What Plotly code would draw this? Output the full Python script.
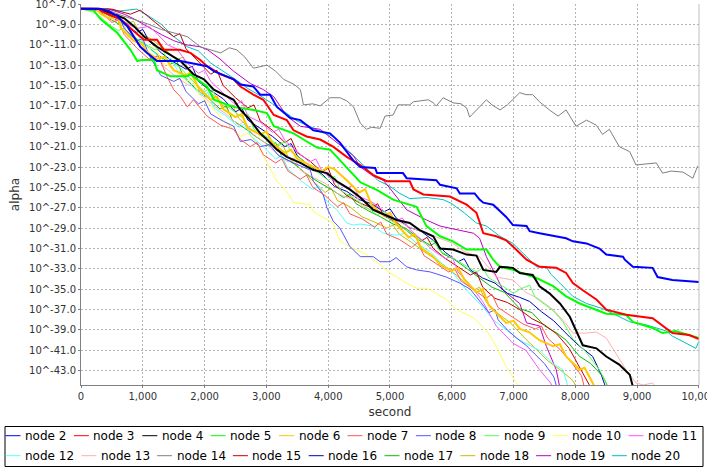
import plotly.graph_objects as go

# alpha values are stored as base-10 exponents, (second, exponent) pairs

NODE_2 = [(0, -7.46), (300, -7.46), (450, -7.7), (590, -8.2), (750, -9.2), (960, -11.2), (1070, -11.8),
          (1230, -12.6), (1610, -12.6), (1770, -12.8), (2040, -13.1), (2150, -13.6), (2470, -14.4),
          (2580, -14.9), (2790, -15.1), (2900, -15.9), (3060, -15.9), (3170, -17.1), (3390, -18.2),
          (3550, -18.4), (3760, -19.4), (4030, -19.7), (4190, -20.6), (4410, -22.4), (4520, -23.0),
          (4760, -23.1), (4790, -23.6), (5210, -23.6), (5270, -24.1), (5750, -24.3), (5810, -24.75),
          (6080, -25.1), (6130, -25.6), (6370, -25.6), (6450, -26.2), (6510, -26.5), (6670, -26.7),
          (6880, -27.9), (6990, -28.7), (7210, -28.8), (7260, -29.3), (7420, -29.5), (7850, -30.0),
          (7960, -30.3), (8180, -30.5), (8390, -31.0), (8500, -31.6), (8770, -31.8), (8800, -32.1),
          (8930, -32.8), (9250, -32.9), (9330, -33.8), (9570, -34.1), (10000, -34.3)]

NODE_3 = [(0, -7.46), (280, -7.46), (360, -7.8), (640, -8.5), (860, -9.7), (1020, -10.5), (1230, -10.5),
          (1340, -11.5), (1600, -11.5), (1770, -11.8), (1930, -12.5), (2040, -13.1), (2260, -13.9),
          (2470, -14.4), (2580, -15.1), (2790, -15.9), (2950, -16.4), (3120, -17.9), (3330, -18.4),
          (3440, -19.4), (3650, -20.0), (3870, -20.3), (4080, -21.0), (4300, -22.0), (4520, -22.8),
          (4730, -23.8), (4950, -24.4), (5320, -24.4), (5380, -25.2), (5540, -25.7), (5970, -25.9),
          (6240, -26.7), (6400, -27.5), (6510, -29.5), (6720, -29.8), (6880, -30.2), (6990, -30.8),
          (7210, -32.1), (7420, -32.8), (7690, -32.9), (7850, -33.4), (7960, -34.4), (8120, -35.1),
          (8340, -36.0), (8500, -37.0), (8820, -37.5), (9250, -37.85), (9330, -38.2), (9570, -39.3),
          (9840, -39.5), (10000, -39.9)]

NODE_4 = [(0, -7.46), (300, -7.5), (480, -7.9), (700, -8.4), (860, -9.2), (1020, -10.2), (1230, -11.2),
          (1390, -11.8), (1610, -12.6), (1820, -13.9), (1990, -14.4), (2150, -15.4), (2470, -16.4),
          (2580, -17.4), (2740, -18.4), (2900, -19.7), (3010, -20.3), (3170, -21.3), (3330, -22.0),
          (3550, -22.6), (3760, -23.3), (3980, -23.6), (4140, -24.4), (4350, -25.2), (4520, -26.0),
          (4730, -27.2), (5110, -28.2), (5320, -28.5), (5480, -29.2), (5700, -29.8), (5810, -31.0),
          (6020, -31.1), (6240, -31.6), (6400, -31.7), (6510, -33.1), (6720, -33.3), (6780, -32.8),
          (6990, -32.9), (7100, -33.4), (7310, -33.6), (7420, -34.7), (7580, -35.4), (7750, -36.4),
          (7910, -37.7), (8010, -39.0), (8120, -40.5), (8340, -40.8), (8500, -41.6), (8710, -42.4),
          (8880, -43.4), (8950, -45.0)]

NODE_5 = [(0, -7.46), (200, -7.6), (320, -8.5), (590, -9.85), (800, -11.5), (910, -12.6), (980, -12.5),
          (1180, -12.5), (1230, -13.5), (1450, -14.1), (1720, -14.1), (1770, -13.9), (1880, -14.4),
          (2040, -15.1), (2150, -16.4), (2470, -17.1), (2790, -17.4), (3010, -17.7), (3120, -19.0),
          (3440, -19.7), (3600, -20.3), (3820, -21.1), (4030, -21.3), (4140, -22.0), (4300, -23.0),
          (4520, -24.5), (4800, -25.3), (5050, -26.2), (5430, -26.9), (5590, -28.8), (5810, -29.8),
          (6020, -30.3), (6240, -31.1), (6560, -31.1), (6670, -32.1), (6780, -32.8), (6990, -33.1),
          (7210, -33.6), (7370, -33.9), (7640, -34.7), (7850, -35.7), (8070, -36.4), (8280, -36.9),
          (8500, -37.4), (8820, -37.5), (8930, -38.2), (9250, -38.8), (9410, -39.3), (9620, -39.1),
          (10000, -39.8)]

NODE_6 = [(0, -7.46), (250, -7.5), (330, -8.0), (450, -8.4), (600, -8.3), (650, -9.4), (850, -10.6),
          (1000, -11.0), (1050, -11.6), (1230, -12.4), (1350, -12.2), (1500, -13.5), (1700, -14.0),
          (1780, -13.7), (1900, -15.2), (2100, -16.4), (2200, -16.1), (2300, -17.3), (2500, -18.1),
          (2600, -17.8), (2700, -19.2), (2900, -19.8), (3000, -19.5), (3100, -20.7), (3300, -21.6),
          (3400, -21.3), (3500, -22.2), (3700, -22.8), (3900, -23.4), (4000, -23.0), (4100, -23.2),
          (4300, -24.3), (4500, -25.5), (4600, -25.2), (4700, -26.7), (4900, -27.8), (5000, -27.5),
          (5100, -28.6), (5300, -29.9), (5400, -29.6), (5500, -30.9), (5700, -31.8), (5810, -32.6),
          (6000, -33.2), (6100, -32.9), (6200, -34.0), (6400, -35.3), (6500, -35.0), (6600, -36.6),
          (6880, -38.3), (7000, -38.1), (7100, -38.9), (7250, -39.2), (7420, -40.0), (7640, -40.6),
          (7750, -40.4), (7850, -41.6), (8070, -42.9), (8150, -42.7), (8280, -44.2), (8350, -45.0)]

NODE_7 = [(0, -7.46), (300, -7.7), (500, -8.8), (600, -8.6), (700, -10.0), (900, -11.3), (1100, -12.4),
          (1250, -12.1), (1390, -14.1), (1500, -15.4), (1610, -16.1), (1720, -17.1), (1820, -16.4),
          (2040, -18.0), (2260, -18.9), (2470, -19.3), (2580, -20.3), (2740, -21.0), (2850, -20.6),
          (2950, -21.8), (3150, -22.6), (3250, -22.2), (3350, -23.4), (3550, -24.2), (3650, -23.8),
          (3750, -25.0), (3950, -25.8), (4150, -26.9), (4250, -26.5), (4350, -27.6), (4550, -28.1),
          (4750, -28.9), (4850, -28.4), (4950, -29.6), (5150, -30.1), (5350, -30.9), (5450, -30.4),
          (5550, -31.7), (5750, -32.5), (5950, -33.3), (6050, -33.0), (6150, -34.2), (6350, -35.0),
          (6550, -35.9), (6650, -35.5), (6750, -36.8), (6950, -37.6), (7150, -38.4), (7350, -38.9),
          (7450, -38.6), (7550, -39.8), (7750, -40.9), (7950, -42.3), (8100, -43.5), (8160, -45.0)]

NODE_8 = [(0, -7.46), (300, -7.5), (500, -8.2), (600, -8.0), (700, -9.4), (900, -10.6), (1000, -10.4),
          (1100, -12.0), (1290, -14.0), (1500, -14.6), (1600, -14.3), (1700, -15.6), (1900, -16.8),
          (2000, -16.5), (2100, -17.8), (2300, -18.5), (2470, -19.0), (2580, -20.5), (2750, -20.3),
          (2900, -21.0), (3050, -20.8), (3200, -21.9), (3440, -22.6), (3710, -23.3), (3760, -24.4),
          (3920, -25.7), (3980, -27.0), (4080, -28.3), (4190, -29.0), (4350, -30.8), (4520, -31.8),
          (4730, -31.8), (4840, -32.3), (5000, -32.3), (5100, -31.9), (5270, -32.8), (5430, -33.1),
          (5650, -33.3), (5910, -33.8), (6130, -34.4), (6300, -35.0), (6450, -36.2), (6600, -37.3),
          (6700, -37.0), (6750, -38.0), (6900, -39.0), (7050, -39.8), (7200, -40.5), (7350, -41.4),
          (7500, -42.3), (7650, -43.6), (7720, -45.0)]

NODE_9 = [(0, -7.46), (200, -7.8), (300, -8.2), (450, -9.0), (600, -9.6), (700, -9.4), (800, -10.1),
          (1000, -10.8), (1200, -11.5), (1300, -11.2), (1400, -12.5), (1600, -13.2), (1800, -14.5),
          (2000, -15.6), (2100, -15.2), (2200, -16.3), (2400, -17.2), (2600, -18.1), (2700, -17.8),
          (2800, -19.3), (3000, -20.0), (3200, -20.9), (3300, -20.5), (3400, -21.5), (3600, -22.4),
          (3800, -23.4), (4000, -24.3), (4100, -23.9), (4200, -25.3), (4400, -26.0), (4600, -26.9),
          (4800, -27.7), (4900, -27.3), (5000, -28.2), (5200, -28.9), (5400, -29.9), (5600, -30.6),
          (5700, -30.2), (5800, -31.2), (6000, -31.9), (6200, -32.6), (6400, -33.3), (6500, -32.9),
          (6600, -33.9), (6800, -34.6), (7000, -35.4), (7100, -35.0), (7260, -34.6), (7350, -35.8),
          (7640, -37.1), (7800, -38.2), (7960, -39.9), (8150, -41.0), (8390, -42.9), (8560, -45.0)]

NODE_10 = [(0, -7.46), (300, -7.6), (500, -8.5), (600, -8.3), (700, -9.5), (900, -10.3), (1100, -11.4),
           (1200, -11.1), (1300, -12.6), (1500, -13.4), (1700, -14.6), (1800, -14.3), (1900, -15.8),
           (2100, -17.0), (2300, -18.4), (2450, -19.2), (2580, -20.0), (2700, -19.7), (2850, -20.7),
           (3010, -22.6), (3170, -24.4), (3330, -25.4), (3440, -26.5), (3710, -26.7), (3760, -27.4),
           (4080, -28.5), (4190, -30.3), (4410, -31.0), (4620, -31.6), (4800, -32.4), (5000, -33.4),
           (5270, -34.4), (5430, -34.9), (5590, -34.9), (5750, -35.4), (5910, -36.0), (6080, -37.0),
           (6350, -37.8), (6560, -39.0), (6720, -40.6), (6880, -42.6), (7050, -44.2), (7150, -45.0)]

NODE_11 = [(0, -7.46), (300, -7.5), (500, -8.1), (700, -8.8), (900, -9.4), (1100, -9.2), (1230, -9.9),
           (1400, -11.0), (1550, -11.4), (1720, -12.8), (1900, -13.8), (2000, -13.5), (2100, -14.6),
           (2300, -15.8), (2500, -16.9), (2600, -16.5), (2700, -18.0), (2900, -18.6), (3100, -19.6),
           (3200, -19.3), (3300, -20.4), (3500, -21.5), (3700, -22.5), (3800, -22.2), (3900, -23.4),
           (4100, -24.4), (4300, -25.1), (4400, -24.8), (4500, -25.9), (4700, -26.4), (4900, -27.3),
           (5100, -28.3), (5200, -28.0), (5300, -29.0), (5500, -30.1), (5700, -31.2), (5900, -32.0),
           (6000, -31.7), (6100, -33.3), (6300, -34.6), (6500, -36.2), (6720, -38.6), (6990, -40.3),
           (7200, -41.0), (7420, -42.9), (7600, -44.2), (7660, -45.0)]

NODE_12 = [(0, -7.46), (350, -7.6), (550, -8.3), (750, -9.2), (850, -9.0), (950, -10.4), (1150, -11.6),
           (1350, -12.6), (1450, -12.3), (1550, -13.4), (1750, -14.8), (1950, -16.0), (2050, -15.7),
           (2150, -17.2), (2350, -18.0), (2550, -19.1), (2650, -18.8), (2750, -20.0), (2950, -21.0),
           (3150, -22.2), (3250, -21.9), (3350, -23.2), (3550, -24.3), (3750, -25.2), (3850, -24.9),
           (3950, -26.2), (4140, -27.2), (4300, -28.5), (4410, -28.7), (4520, -28.6), (4730, -28.8),
           (4890, -29.5), (5100, -29.7), (5250, -29.5), (5430, -30.5), (5650, -31.3), (5860, -32.6),
           (6020, -33.4), (6240, -35.1), (6510, -36.8), (6670, -38.0), (6880, -39.0), (7100, -40.0),
           (7420, -41.0), (7640, -42.3), (7800, -42.9), (7900, -45.0)]

NODE_13 = [(0, -7.46), (350, -7.6), (550, -8.6), (650, -8.4), (750, -9.8), (950, -11.0), (1150, -12.3),
           (1250, -12.0), (1350, -13.2), (1550, -14.2), (1750, -15.0), (1850, -14.7), (1950, -15.9),
           (2150, -17.0), (2350, -17.8), (2550, -18.9), (2650, -18.5), (2750, -19.6), (2950, -20.5),
           (3150, -21.6), (3350, -22.5), (3450, -22.1), (3550, -23.3), (3750, -24.0), (3950, -24.6),
           (4150, -25.6), (4350, -26.1), (4450, -25.8), (4550, -26.9), (4750, -27.3), (4950, -27.9),
           (5150, -28.4), (5350, -29.0), (5550, -29.4), (5750, -29.9), (6020, -30.5), (6200, -31.3),
           (6450, -31.8), (6600, -32.9), (6720, -33.8), (6990, -34.1), (7200, -35.3), (7420, -36.0),
           (7640, -37.0), (7850, -38.4), (7960, -39.3), (8180, -39.3), (8340, -39.2), (8500, -39.8),
           (8660, -41.3), (8820, -42.9), (8980, -44.2), (9100, -44.4), (9250, -44.2), (9350, -45.0)]

NODE_14 = [(0, -7.46), (400, -7.5), (600, -8.0), (900, -8.6), (1100, -9.0), (1300, -9.5), (1500, -9.8),
           (1720, -10.2), (1930, -11.2), (2100, -11.5), (2260, -11.8), (2400, -11.3), (2520, -11.5),
           (2650, -12.2), (2790, -13.3), (3010, -13.0), (3150, -13.6), (3280, -14.4), (3450, -14.9),
           (3550, -15.4), (3600, -16.9), (3750, -16.8), (3870, -17.0), (4030, -16.2), (4190, -16.2),
           (4300, -16.5), (4410, -17.1), (4520, -18.7), (4620, -19.3), (4700, -19.1), (4840, -19.2),
           (4920, -18.0), (5050, -17.9), (5130, -16.9), (5320, -16.9), (5380, -16.6), (5620, -16.4),
           (5700, -16.7), (5750, -17.0), (5860, -16.2), (6020, -16.7), (6150, -16.8), (6240, -17.2),
           (6290, -18.1), (6400, -17.4), (6560, -16.4), (6650, -16.9), (6780, -17.4), (6900, -16.9),
           (6990, -16.4), (7100, -15.7), (7200, -15.9), (7310, -15.9), (7420, -16.6), (7580, -17.4),
           (7720, -18.0), (7850, -17.4), (8010, -19.0), (8180, -18.4), (8340, -18.9), (8440, -19.8),
           (8550, -19.3), (8710, -21.0), (8880, -21.5), (8980, -22.8), (9310, -22.6), (9410, -23.6),
           (9550, -23.4), (9740, -23.5), (9900, -24.1), (9980, -22.9)]

NODE_15 = [(0, -7.46), (500, -7.5), (800, -8.0), (960, -7.6), (1100, -8.3), (1300, -9.3), (1500, -10.2),
           (1600, -9.9), (1700, -11.4), (1900, -12.6), (2100, -13.9), (2200, -13.5), (2300, -15.0),
           (2500, -16.2), (2700, -17.2), (2800, -16.9), (2900, -18.5), (3100, -19.4), (3300, -20.6),
           (3400, -20.2), (3500, -21.6), (3700, -22.4), (3900, -23.5), (4000, -23.1), (4100, -24.7),
           (4300, -25.8), (4500, -26.5), (4700, -27.0), (4800, -26.6), (4900, -27.8), (5100, -28.4),
           (5300, -29.4), (5500, -30.3), (5600, -29.9), (5700, -31.0), (5900, -32.0), (6100, -32.8),
           (6300, -33.6), (6400, -33.3), (6500, -34.8), (6700, -35.9), (6900, -36.3), (7100, -37.0),
           (7300, -37.9), (7500, -38.5), (7700, -39.4), (7900, -40.8), (8050, -42.4), (8200, -44.0),
           (8280, -45.0)]

NODE_16 = [(0, -7.46), (300, -7.6), (500, -8.3), (700, -9.0), (900, -9.8), (1000, -9.5), (1100, -10.6),
           (1300, -11.8), (1500, -12.7), (1700, -13.4), (1800, -13.1), (1900, -14.6), (2100, -15.5),
           (2300, -16.3), (2500, -17.6), (2600, -17.2), (2700, -18.4), (2900, -19.2), (3100, -20.0),
           (3300, -21.0), (3400, -20.7), (3500, -21.9), (3700, -22.9), (3900, -23.7), (4100, -24.9),
           (4300, -25.4), (4500, -26.2), (4700, -26.6), (4900, -27.4), (5000, -27.1), (5100, -28.0),
           (5300, -28.9), (5500, -29.3), (5700, -30.2), (5900, -31.4), (6100, -32.3), (6200, -32.0),
           (6300, -33.1), (6500, -33.9), (6700, -34.4), (6900, -35.4), (7100, -35.8), (7260, -36.2),
           (7450, -37.2), (7650, -38.1), (7910, -39.7), (8050, -40.5), (8280, -41.6), (8420, -43.4),
           (8510, -45.0)]

NODE_17 = [(0, -7.46), (250, -7.5), (450, -8.4), (650, -9.1), (750, -8.9), (850, -10.2), (1050, -11.1),
           (1250, -12.0), (1450, -12.9), (1550, -12.6), (1650, -14.0), (1850, -15.3), (2050, -16.2),
           (2250, -17.3), (2350, -17.0), (2450, -18.4), (2650, -19.2), (2850, -20.1), (3050, -20.9),
           (3150, -20.6), (3250, -22.0), (3450, -22.7), (3650, -23.7), (3850, -24.5), (4050, -25.2),
           (4250, -26.0), (4350, -25.7), (4450, -26.6), (4650, -27.3), (4850, -27.9), (5050, -28.6),
           (5250, -29.0), (5450, -29.9), (5650, -30.7), (5750, -30.4), (5850, -31.5), (6050, -32.1),
           (6250, -33.0), (6450, -33.9), (6650, -34.8), (6850, -35.3), (7100, -36.9), (7300, -37.3),
           (7500, -38.6), (7700, -39.3), (7850, -40.0), (8070, -41.6), (8250, -42.3), (8450, -43.6),
           (8560, -45.0)]

NODE_18 = [(0, -7.46), (350, -7.5), (550, -8.1), (750, -8.9), (850, -8.7), (950, -9.8), (1150, -10.5),
           (1350, -11.4), (1550, -12.5), (1650, -12.2), (1750, -13.6), (1950, -14.8), (2150, -16.1),
           (2350, -17.2), (2450, -16.9), (2550, -18.2), (2750, -19.3), (2950, -20.1), (3150, -20.9),
           (3250, -20.6), (3350, -22.0), (3550, -23.2), (3750, -24.4), (3950, -25.5), (4050, -25.1),
           (4150, -26.3), (4350, -26.9), (4550, -27.9), (4750, -28.4), (4950, -29.0), (5050, -28.7),
           (5150, -29.6), (5350, -30.4), (5550, -31.3), (5750, -32.1), (5950, -33.0), (6150, -34.0),
           (6350, -35.1), (6450, -34.8), (6550, -36.2), (6750, -37.4), (6950, -38.3), (7150, -39.6),
           (7350, -40.8), (7550, -42.0), (7750, -42.9), (7950, -43.9), (8060, -45.0)]

NODE_19 = [(0, -7.46), (450, -7.5), (700, -8.0), (900, -8.6), (1100, -9.3), (1300, -10.0), (1500, -10.6),
           (1700, -11.0), (1930, -11.2), (2050, -11.5), (2250, -12.4), (2470, -13.6), (2740, -14.8),
           (2950, -15.4), (3120, -16.1), (3330, -18.0), (3550, -19.0), (3870, -19.3), (4080, -20.3),
           (4410, -21.9), (4520, -23.0), (4730, -23.9), (4890, -24.3), (5000, -25.1), (5270, -27.2),
           (5590, -28.2), (5810, -28.8), (6130, -29.2), (6350, -29.5), (6450, -30.0), (6560, -31.8),
           (6700, -33.5), (6830, -35.1), (7100, -36.4), (7210, -38.3), (7420, -38.6), (7530, -40.6),
           (7690, -42.9), (7760, -45.0)]

NODE_20 = [(0, -7.46), (400, -7.46), (600, -7.7), (900, -7.5), (1100, -8.2), (1300, -9.0), (1500, -10.2),
           (1720, -11.2), (1900, -11.6), (2100, -12.8), (2300, -13.6), (2500, -14.4), (2700, -15.3),
           (2900, -16.0), (3100, -16.8), (3300, -17.6), (3500, -18.5), (3700, -19.0), (3900, -19.6),
           (4080, -20.0), (4410, -21.9), (4600, -23.0), (4800, -24.3), (5000, -24.9), (5160, -25.6),
           (5320, -26.1), (5600, -26.0), (5860, -26.2), (6000, -26.6), (6200, -27.5), (6400, -28.5),
           (6560, -28.8), (6780, -29.8), (6990, -30.5), (7210, -31.8), (7370, -32.8), (7530, -32.8),
           (7600, -33.5), (7750, -34.4), (7960, -35.7), (8180, -36.4), (8440, -36.9), (8610, -37.4),
           (8880, -38.2), (9150, -38.5), (9470, -39.1), (9570, -39.6), (9790, -40.3), (9950, -40.8),
           (10000, -40.1)]

SERIES = [
    ("node 2", NODE_2, "#0000ff", 2),
    ("node 3", NODE_3, "#ff0000", 2),
    ("node 4", NODE_4, "#000000", 2),
    ("node 5", NODE_5, "#00ff00", 2),
    ("node 6", NODE_6, "#ffc800", 2),
    ("node 7", NODE_7, "#ff5555", 1),
    ("node 8", NODE_8, "#5555ff", 1),
    ("node 9", NODE_9, "#55ff55", 1),
    ("node 10", NODE_10, "#ffff55", 1),
    ("node 11", NODE_11, "#ff55ff", 1),
    ("node 12", NODE_12, "#55ffff", 1),
    ("node 13", NODE_13, "#ffafaf", 1),
    ("node 14", NODE_14, "#808080", 1),
    ("node 15", NODE_15, "#c00000", 1),
    ("node 16", NODE_16, "#0000c0", 1),
    ("node 17", NODE_17, "#00c000", 1),
    ("node 18", NODE_18, "#c0c000", 1),
    ("node 19", NODE_19, "#c000c0", 1),
    ("node 20", NODE_20, "#00c0c0", 1),
]
LEGEND_ROWS = [10, 9]   # entries per legend row

Y_TICK_EXPONENTS = list(range(-7, -44, -2))
X_TICKS = list(range(0, 10001, 1000))

FONT = "DejaVu Sans"
W, H = 707, 469
M_L, M_R, M_T, M_B = 81, 8, 4, 84


def px_x(px):
    return (px - M_L) / (W - M_L - M_R)


def px_y(py):
    return (H - M_B - py) / (H - M_T - M_B)


fig = go.Figure()
# first series drawn last so it sits on top (like the java renderer)
for name, pts, color, width in reversed(SERIES):
    fig.add_trace(go.Scatter(
        x=[p[0] for p in pts],
        y=[10 ** p[1] for p in pts],
        mode="lines",
        name=name,
        line=dict(color=color, width=width),
        showlegend=False,
    ))

axis_style = dict(showgrid=True, gridcolor="#b4b4b4", gridwidth=1, griddash="2px,2px",
                  showline=True, linecolor="#808080", linewidth=1, mirror=False,
                  ticks="outside", ticklen=2, tickcolor="#808080", ticklabeloverflow="allow",
                  tickfont=dict(family=FONT, size=10, color="#333333"), zeroline=False)

fig.update_xaxes(range=[0, 10000.5], tickvals=X_TICKS, tickformat=",d",
                 title=dict(text="second", font=dict(family=FONT, size=12, color="#333333"), standoff=6),
                 **axis_style)
fig.update_yaxes(type="log", range=[-44.4, -6.999],
                 tickvals=[10 ** e for e in Y_TICK_EXPONENTS],
                 ticktext=["10^%.1f" % e for e in Y_TICK_EXPONENTS],
                 title=dict(text="alpha", font=dict(family=FONT, size=12, color="#333333"), standoff=6),
                 **axis_style)

# right edge of the plot area
fig.add_shape(type="line", xref="paper", yref="paper", x0=1, x1=1, y0=0, y1=1,
              line=dict(color="#c0c0c0", width=1))

# legend box below the plot, laid out like the original (two rows)
fig.add_shape(type="rect", xref="paper", yref="paper",
              x0=px_x(5), x1=px_x(703), y0=px_y(426.5), y1=px_y(466.5),
              line=dict(color="black", width=1), fillcolor="white", layer="above")
idx = 0
for row, count in enumerate(LEGEND_ROWS):
    cy = 435.7 + 20 * row
    x = 5.5
    for name, pts, color, width in SERIES[idx:idx + count]:
        fig.add_shape(type="line", xref="paper", yref="paper",
                      x0=px_x(x), x1=px_x(x + 15), y0=px_y(cy), y1=px_y(cy),
                      line=dict(color=color, width=1), layer="above")
        fig.add_annotation(text=name, xref="paper", yref="paper", x=px_x(x + 17.5), y=px_y(cy),
                           xanchor="left", yanchor="middle", showarrow=False,
                           font=dict(family=FONT, size=12, color="black"))
        x += 24 + 7.4 * len(name)
    idx += count

fig.update_layout(
    width=W, height=H,
    margin=dict(l=M_L, r=M_R, t=M_T, b=M_B, autoexpand=False),
    paper_bgcolor="white", plot_bgcolor="white",
    font=dict(family=FONT, size=12, color="black"),
    showlegend=False,
)

fig.write_html("out.html", config={"displayModeBar": False},
               post_script="document.body.style.margin='0';")
